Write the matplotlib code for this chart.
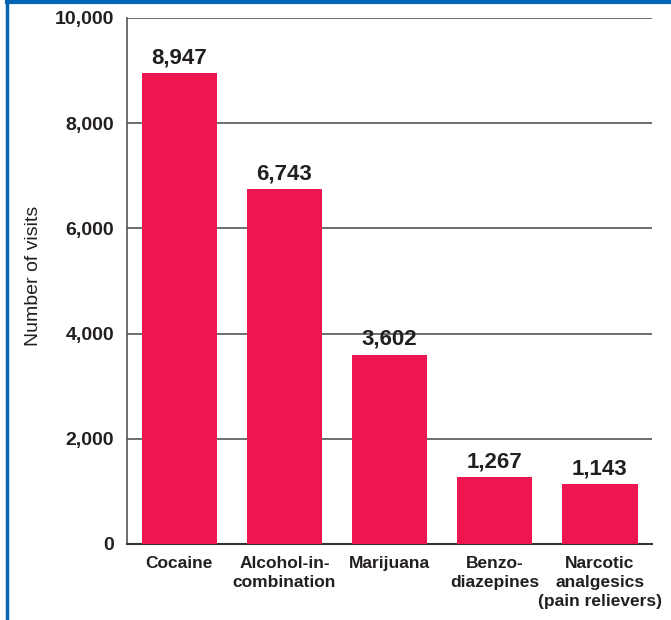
import matplotlib.pyplot as plt
from matplotlib.lines import Line2D

categories = ["Cocaine", "Alcohol-in-\ncombination", "Marijuana", "Benzo-\ndiazepines",
              "Narcotic\nanalgesics\n(pain relievers)"]
visits = [8947, 6743, 3602, 1267, 1143]

plt.rcParams['font.family'] = ['Liberation Sans Narrow', 'Liberation Sans', 'DejaVu Sans']

fig = plt.figure(figsize=(6.71, 6.2), dpi=100)
ax = fig.add_axes([0.189, 0.1226, 0.783, 0.8484])

x = range(len(categories))
ax.bar(x, visits, width=0.72, color='#EE1651', zorder=3)
for xi, v in zip(x, visits):
    ax.text(xi, v + 90, f"{v:,}", ha='center', va='bottom', fontsize=16,
            fontweight='bold', color='#231F20')

ax.set_xlim(-0.5, 4.5)
ax.set_ylim(0, 10000)
ax.set_yticks(range(0, 10001, 2000))
ax.set_yticklabels([f"{t:,}" for t in range(0, 10001, 2000)], fontsize=14,
                   fontweight='bold', color='#231F20')
ax.yaxis.grid(True, color='#555555', linewidth=1.2, zorder=0)
ax.tick_params(axis='y', length=0, pad=9)
ax.tick_params(axis='x', length=0, pad=9)
ax.set_xticks(list(x))
ax.set_xticklabels(categories, fontsize=12.5, fontweight='bold', color='#231F20',
                   va='top', linespacing=1.3)
ax.set_ylabel("Number of visits", fontsize=14, color='#231F20')
ax.yaxis.set_label_coords(-0.162, 0.51)
for s in ['top', 'right']:
    ax.spines[s].set_visible(False)
ax.spines['left'].set_color('#555555')
ax.spines['bottom'].set_color('#333333')
ax.spines['bottom'].set_linewidth(1.5)
ax.spines['left'].set_linewidth(1.2)

# blue frame on top and left
fig.add_artist(Line2D([0.0105, 1], [0.9975, 0.9975], color='#0066B3', linewidth=3,
                      transform=fig.transFigure))
fig.add_artist(Line2D([0.0105, 0.0105], [0, 0.9975], color='#0066B3', linewidth=2.5,
                      transform=fig.transFigure))

fig.savefig("out.png", dpi=100)
